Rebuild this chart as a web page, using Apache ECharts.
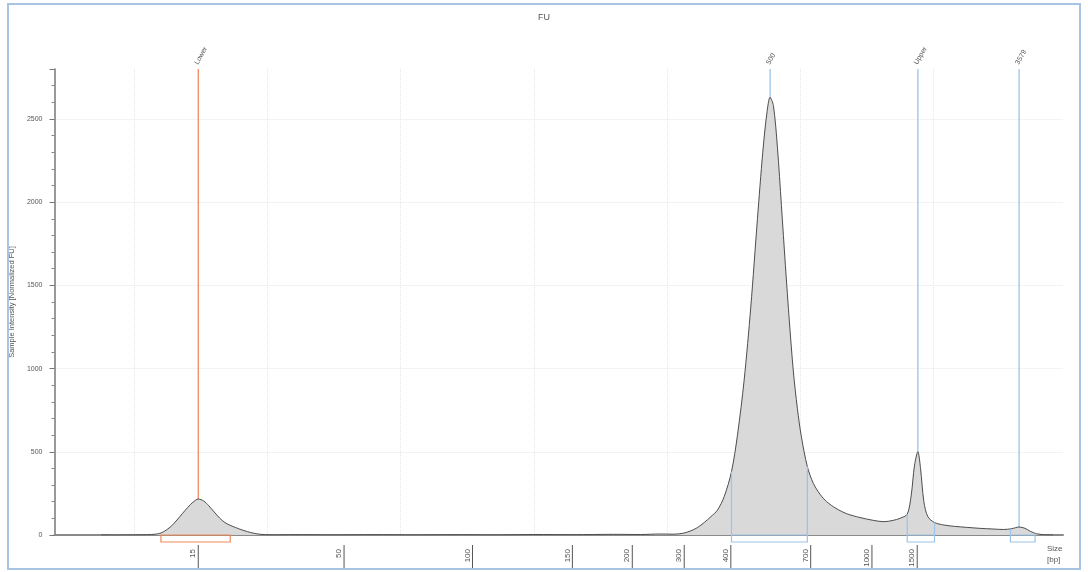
<!DOCTYPE html>
<html>
<head>
<meta charset="utf-8">
<title>Electropherogram</title>
<script src="https://cdn.jsdelivr.net/npm/echarts@6/dist/echarts.min.js"></script>
<style>
  html, body { margin: 0; padding: 0; background: #fff; }
  #chart { width: 1088px; height: 572px; }
</style>
</head>
<body>
<div id="chart"></div>
<script>
// migration time (arbitrary units) and intensity of the trace
var sigTime = [-2.5, 0, 1.0, 1.6, 2.0, 2.4, 2.8, 3.2, 3.6, 4.0, 4.4, 4.8, 5.2, 5.6, 6.0, 6.4, 6.8, 7.2, 7.6, 8.0,
  8.5, 9.0, 9.5, 10.2, 12, 15, 18, 21, 24, 27, 30, 33, 36, 38, 39.5, 40.5, 41.2, 41.8, 42.3, 42.8,
  43.3, 43.8, 44.3, 44.85, 45.3, 45.8, 46.3, 46.8, 47.2, 47.5, 47.75, 48.0, 48.3, 48.6, 48.9, 49.2,
  49.5, 49.8, 50.1, 50.55, 51.0, 51.5, 52.0, 52.7, 53.5, 54.5, 55.5, 56.3, 57.0, 57.5, 58.05, 58.35,
  58.6, 58.85, 59.05, 59.3, 59.6, 60.1, 60.8, 61.6, 62.5, 63.5, 64.5, 65.3, 65.9, 66.45, 66.9, 67.3,
  67.75, 68.3, 69.0]
var sigValue = [0, 1, 2, 5, 12, 30, 55, 90, 128, 165, 197, 216, 205, 175, 138, 102, 75, 58, 45, 33,
  20, 10, 4, 1, 2, 1, 2, 1, 2, 1, 3, 2, 4, 3, 6, 5, 10, 25, 45, 75,
  110, 150, 230, 380, 600, 930, 1370, 1900, 2300, 2530, 2630, 2580, 2330, 1980, 1620, 1280,
  980, 760, 590, 410, 310, 245, 200, 160, 128, 105, 88, 80, 88, 100, 125, 240,
  420, 500, 400, 200, 110, 75, 60, 52, 46, 40, 36, 33, 38, 48, 40, 22,
  8, 2, 0]

// size ladder ticks (bp) and where they sit on the time axis
var bpTime = [4.8, 15.75, 25.4, 32.9, 37.4, 41.3, 44.8, 50.8, 55.4, 58.8]
var bpLabels = ['15', '50', '100', '150', '200', '300', '400', '700', '1000', '1500']

// peak / marker annotations
var markerTime = [4.8, 47.75, 58.85, 66.45]
var markerLabels = ['Lower', '500', 'Upper', '3579']
var markerKind = ['lower', 'peak', 'upper', 'peak']

// integration regions
var regionStart = [2.0, 44.85, 58.05, 65.8]
var regionEnd = [7.2, 50.55, 60.1, 67.65]
var regionKind = ['lower', 'peak', 'peak', 'peak']

var ORANGE = '#ef8a5a'
var BLUE = '#9cc3e8'
var FONT = 'Liberation Sans'

function traceAt(t) {
  for (var i = 1; i < sigTime.length; i++) {
    if (t <= sigTime[i]) {
      var f = (t - sigTime[i - 1]) / (sigTime[i] - sigTime[i - 1])
      return sigValue[i - 1] + f * (sigValue[i] - sigValue[i - 1])
    }
  }
  return 0
}

var chart = echarts.init(document.getElementById('chart'))

var gridColor = '#e6e6e6'

chart.setOption({
  animation: false,
  title: {
    text: 'FU',
    left: 'center',
    top: 8,
    textStyle: { fontSize: 9, fontWeight: 'normal', color: '#555', fontFamily: FONT }
  },
  graphic: [
    {
      type: 'rect',
      silent: true,
      z: -1,
      shape: { x: 8, y: 4, width: 1072, height: 565 },
      style: { fill: 'none', stroke: '#a7c4e2', lineWidth: 2 }
    },
    {
      type: 'text',
      left: 1047,
      top: 543,
      style: { text: 'Size\n[bp]', fontSize: 8, lineHeight: 11, fill: '#555', fontFamily: FONT }
    }
  ],
  grid: {
    left: 53,
    right: 25,
    top: 69,
    bottom: 37
  },
  xAxis: {
    type: 'value',
    min: -6,
    max: 69.75,
    splitNumber: 8,
    axisLine: { show: true, onZero: false, lineStyle: { color: '#8a8a8a', width: 2 } },
    axisTick: { show: false },
    axisLabel: { show: false },
    splitLine: {
      show: true,
      lineStyle: {
        type: 'dotted',
        color: ['transparent', gridColor, gridColor, gridColor, gridColor, gridColor, gridColor, gridColor, 'transparent']
      }
    }
  },
  yAxis: {
    type: 'value',
    min: 0,
    max: 2800,
    interval: 500,
    name: 'Sample Intensity [Normalized FU]',
    nameLocation: 'middle',
    nameGap: 31,
    nameTextStyle: { fontSize: 7.5, color: '#555', fontFamily: FONT },
    axisLine: { show: true, onZero: false, lineStyle: { color: '#777', width: 1.5 } },
    axisTick: { show: true, length: 5, lineStyle: { color: '#777' } },
    minorTick: { show: true, splitNumber: 5, length: 3, lineStyle: { color: '#888' } },
    axisLabel: {
      fontSize: 7,
      color: '#555',
      margin: 12,
      showMaxLabel: false,
      fontFamily: FONT,
      formatter: function (v) { return String(v) }
    },
    splitLine: {
      show: true,
      lineStyle: {
        type: 'dotted',
        color: [gridColor, gridColor, gridColor, gridColor, gridColor, gridColor, 'transparent']
      }
    }
  },
  series: [
    {
      // marker lines with slanted names
      type: 'custom',
      z: 1,
      clip: false,
      data: markerTime.map(function (t) { return [t, 0] }),
      renderItem: function (params, api) {
        var i = params.dataIndex
        var top = api.coord([api.value(0), 2800])
        var bot = api.coord([api.value(0), 0])
        var color = markerKind[i] === 'lower' ? ORANGE : BLUE
        return {
          type: 'group',
          children: [
            {
              type: 'line',
              shape: { x1: top[0], y1: top[1], x2: bot[0], y2: bot[1] },
              style: { stroke: color, lineWidth: 1.3 }
            },
            {
              type: 'text',
              x: top[0] - 2,
              y: top[1] - 5,
              rotation: Math.PI / 3,
              style: {
                text: markerLabels[i],
                fontSize: 7,
                fill: '#555',
                fontFamily: FONT,
                align: 'left',
                verticalAlign: 'middle'
              }
            }
          ]
        }
      }
    },
    {
      type: 'line',
      z: 2,
      smooth: 0.3,
      symbol: 'none',
      lineStyle: { color: '#4d4d4d', width: 1 },
      areaStyle: { color: '#d9d9d9', opacity: 1 },
      data: sigTime.map(function (t, i) { return [t, sigValue[i]] })
    },
    {
      // integration region boxes
      type: 'custom',
      z: 3,
      clip: false,
      data: regionStart.map(function (t, i) { return [t, regionEnd[i]] }),
      renderItem: function (params, api) {
        var i = params.dataIndex
        var color = regionKind[i] === 'lower' ? ORANGE : BLUE
        var a = api.coord([regionStart[i], 0])
        var b = api.coord([regionEnd[i], 0])
        var ha = api.coord([regionStart[i], traceAt(regionStart[i])])
        var hb = api.coord([regionEnd[i], traceAt(regionEnd[i])])
        var kids = [
          {
            type: 'rect',
            shape: { x: a[0], y: a[1], width: b[0] - a[0], height: 7 },
            style: { fill: 'none', stroke: color, lineWidth: 1.2 }
          }
        ]
        if (regionKind[i] !== 'lower') {
          kids.push({
            type: 'line',
            shape: { x1: a[0], y1: a[1], x2: ha[0], y2: ha[1] },
            style: { stroke: color, lineWidth: 1.2 }
          })
          kids.push({
            type: 'line',
            shape: { x1: b[0], y1: b[1], x2: hb[0], y2: hb[1] },
            style: { stroke: color, lineWidth: 1.2 }
          })
        }
        return { type: 'group', children: kids }
      }
    },
    {
      // size ladder ticks below the baseline
      type: 'custom',
      z: 3,
      clip: false,
      data: bpTime.map(function (t) { return [t, 0] }),
      renderItem: function (params, api) {
        var i = params.dataIndex
        var p = api.coord([api.value(0), 0])
        return {
          type: 'group',
          children: [
            {
              type: 'line',
              shape: { x1: p[0], y1: p[1] + 10, x2: p[0], y2: p[1] + 33 },
              style: { stroke: '#555', lineWidth: 1 }
            },
            {
              type: 'text',
              x: p[0] - 5,
              y: p[1] + 14,
              rotation: Math.PI / 2,
              style: {
                text: bpLabels[i],
                fontSize: 8,
                fill: '#555',
                fontFamily: FONT,
                align: 'right',
                verticalAlign: 'middle'
              }
            }
          ]
        }
      }
    }
  ]
})
</script>
</body>
</html>
